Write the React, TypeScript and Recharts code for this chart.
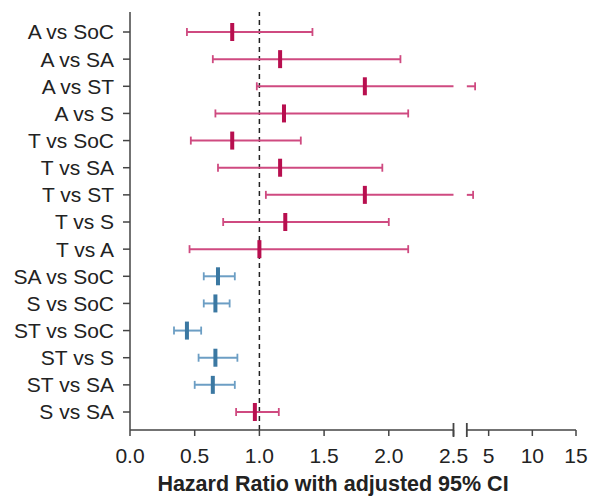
import { ComposedChart, Scatter, XAxis, YAxis, ReferenceLine, Label } from 'recharts';

const comparisons = [
  'A vs SoC', 'A vs SA', 'A vs ST', 'A vs S', 'T vs SoC', 'T vs SA', 'T vs ST', 'T vs S',
  'T vs A', 'SA vs SoC', 'S vs SoC', 'ST vs SoC', 'ST vs S', 'ST vs SA', 'S vs SA',
];
const hazardRatio = [0.79, 1.16, 1.815, 1.19, 0.79, 1.16, 1.815, 1.2, 1.0, 0.68, 0.66, 0.44, 0.66, 0.64, 0.965];
const lowerCI = [0.44, 0.64, 0.98, 0.66, 0.47, 0.68, 1.05, 0.72, 0.46, 0.57, 0.57, 0.34, 0.53, 0.5, 0.82];
const upperCI = [1.41, 2.09, 3.45, 2.15, 1.32, 1.95, 3.22, 2.0, 2.15, 0.81, 0.77, 0.55, 0.83, 0.81, 1.15];
const significant = [false, false, false, false, false, false, false, false, false, true, true, true, true, true, false];

const tickValues = [0, 0.5, 1, 1.5, 2, 2.5, 5, 10, 15];
const tickLabels = ['0.0', '0.5', '1.0', '1.5', '2.0', '2.5', '5', '10', '15'];

// broken axis: 0-2.5 linear, then a gap, then 2.5-15 compressed
const BREAK = 2.5;
const GAP = 0.103;
const SQUEEZE = 0.0675;
const tx = (v: number) => (v <= BREAK ? v : BREAK + GAP + (v - BREAK) * SQUEEZE);
const RIGHT_START = BREAK + GAP;
const X_MAX = tx(15);

const Y_TOP = -0.737;
const Y_BOTTOM = 14.663;

const RED = '#B80F4F';
const RED_CI = '#CF4A80';
const BLUE = '#3B78A2';
const BLUE_CI = '#6C9EC4';
const AXIS = '#444';
const FONT = '"Liberation Sans", Arial, sans-serif';

const points = comparisons.map((name, i) => ({ name, row: i, x: tx(hazardRatio[i]), sig: significant[i] }));

const whisker = (color: string, capStart: boolean, capEnd: boolean, cap = 4, width = 2) => (p: any) => (
  <g>
    <line x1={p.x1} y1={p.y1} x2={p.x2} y2={p.y2} stroke={color} strokeWidth={width} />
    {capStart && <line x1={p.x1} y1={p.y1 - cap} x2={p.x1} y2={p.y1 + cap} stroke={color} strokeWidth={1.8} />}
    {capEnd && <line x1={p.x2} y1={p.y2 - cap} x2={p.x2} y2={p.y2 + cap} stroke={color} strokeWidth={1.8} />}
  </g>
);

const Marker = (props: any) => {
  const { cx, cy, payload } = props;
  return <rect x={cx - 2} y={cy - 9} width={4} height={18} fill={payload.sig ? BLUE : RED} />;
};

export default function App() {
  return (
    <div style={{ position: 'absolute', left: 0, top: 0, fontFamily: FONT }}>
      <ComposedChart width={594} height={496} margin={{ top: 12, right: 18, bottom: 0, left: 0 }} style={{ fontFamily: FONT }}>
        <XAxis
          type="number"
          dataKey="x"
          domain={[0, X_MAX]}
          ticks={tickValues.map(tx)}
          tickFormatter={(v: number) => tickLabels[tickValues.map(tx).findIndex((t) => Math.abs(t - v) < 1e-6)]}
          interval={0}
          allowDataOverflow
          axisLine={false}
          tickLine={{ stroke: AXIS, strokeWidth: 1.5 }}
          tickSize={6}
          tickMargin={12}
          height={66}
          tick={{ fill: '#222', fontSize: 21 }}
        >
          <Label value="Hazard Ratio with adjusted 95% CI" position="insideBottom" offset={5} dx={-20} fontWeight={700} fontSize={21.5} fill="#222" />
        </XAxis>
        <YAxis
          type="number"
          dataKey="row"
          domain={[Y_TOP, Y_BOTTOM]}
          reversed
          ticks={comparisons.map((_, i) => i)}
          tickFormatter={(i: number) => comparisons[i]}
          interval={0}
          allowDataOverflow
          width={130}
          axisLine={{ stroke: AXIS, strokeWidth: 1.5 }}
          tickLine={{ stroke: AXIS, strokeWidth: 1.5 }}
          tickSize={7}
          tickMargin={9}
          tick={{ fill: '#222', fontSize: 21 }}
        />
        <ReferenceLine x={1} stroke="#222" strokeWidth={1.5} strokeDasharray="5 4" ifOverflow="visible" />
        {/* x axis drawn in two pieces with break caps */}
        <ReferenceLine
          segment={[{ x: 0, y: Y_BOTTOM }, { x: BREAK, y: Y_BOTTOM }]}
          ifOverflow="visible"
          shape={whisker(AXIS, false, true, 7, 1.5)}
        />
        <ReferenceLine
          segment={[{ x: RIGHT_START, y: Y_BOTTOM }, { x: X_MAX, y: Y_BOTTOM }]}
          ifOverflow="visible"
          shape={whisker(AXIS, true, false, 7, 1.5)}
        />
        {comparisons.map((name, i) => {
          const color = significant[i] ? BLUE_CI : RED_CI;
          if (upperCI[i] <= BREAK) {
            return (
              <ReferenceLine
                key={name}
                segment={[{ x: tx(lowerCI[i]), y: i }, { x: tx(upperCI[i]), y: i }]}
                ifOverflow="visible"
                shape={whisker(color, true, true)}
              />
            );
          }
          return [
            <ReferenceLine
              key={name + '-a'}
              segment={[{ x: tx(lowerCI[i]), y: i }, { x: BREAK, y: i }]}
              ifOverflow="visible"
              shape={whisker(color, true, false)}
            />,
            <ReferenceLine
              key={name + '-b'}
              segment={[{ x: RIGHT_START, y: i }, { x: tx(upperCI[i]), y: i }]}
              ifOverflow="visible"
              shape={whisker(color, false, true)}
            />,
          ];
        })}
        <Scatter data={points} dataKey="x" shape={<Marker />} isAnimationActive={false} />
      </ComposedChart>
    </div>
  );
}
